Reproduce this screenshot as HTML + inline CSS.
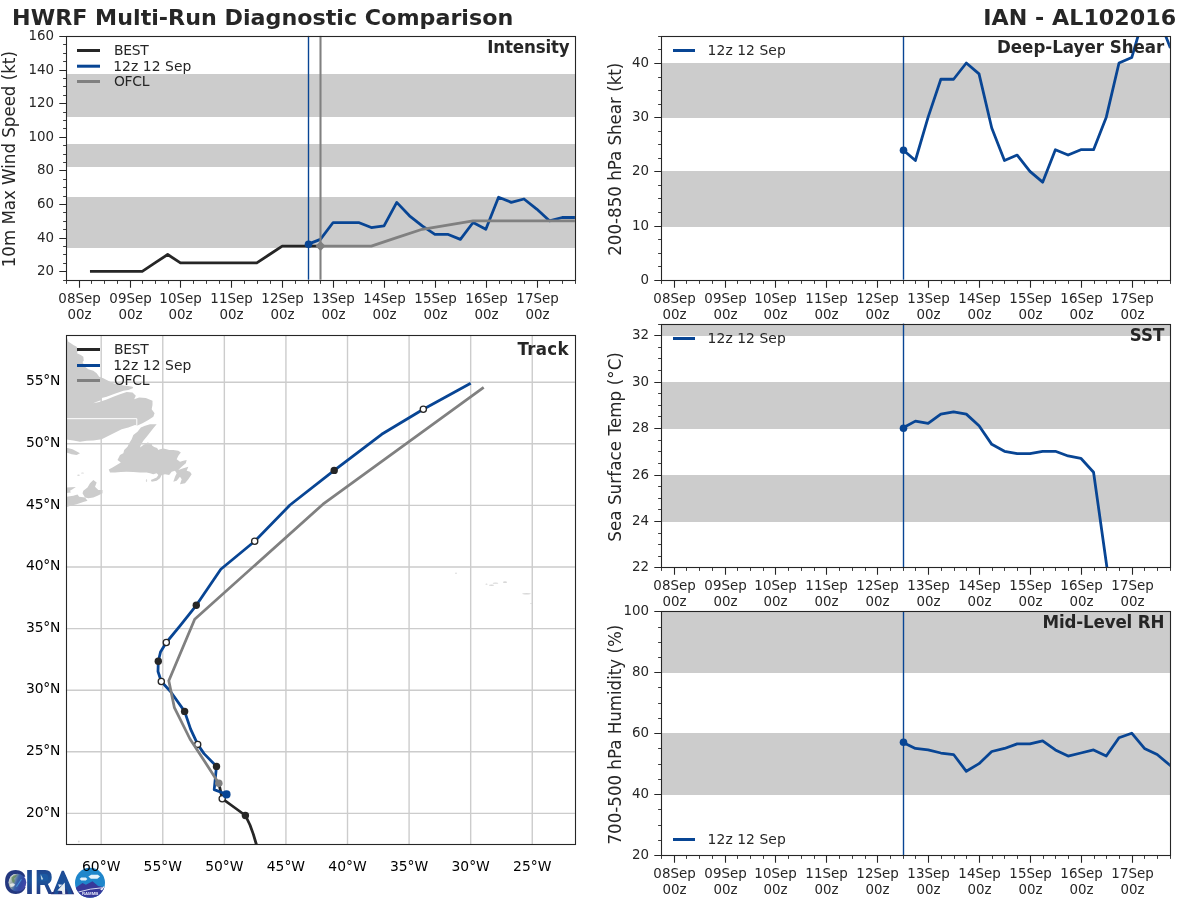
<!DOCTYPE html>
<html lang="en"><head><meta charset="utf-8"><title>HWRF Multi-Run Diagnostic Comparison - IAN AL102016</title>
<style>
html,body{margin:0;padding:0;background:#fff;}
body{width:1200px;height:900px;overflow:hidden;}
svg{display:block;font-family:'DejaVu Sans','Liberation Sans',sans-serif;fill:#262626;}
text{white-space:pre;}
</style></head><body>
<svg width="1200" height="900" viewBox="0 0 1200 900">
<defs><linearGradient id="lg" x1="0" y1="0" x2="0" y2="1" gradientUnits="objectBoundingBox"><stop offset="0" stop-color="#223a84"/><stop offset="0.45" stop-color="#1b559c"/><stop offset="1" stop-color="#27307a"/></linearGradient><linearGradient id="gl" x1="0" y1="0.2" x2="1" y2="0.6"><stop offset="0" stop-color="#e4e8e2"/><stop offset="0.3" stop-color="#8fa0a0"/><stop offset="0.5" stop-color="#3a62a8"/><stop offset="0.75" stop-color="#3248a4"/><stop offset="1" stop-color="#4a49a8"/></linearGradient><linearGradient id="lg2" x1="0" y1="0" x2="0" y2="1"><stop offset="0" stop-color="#1f4a94"/><stop offset="0.55" stop-color="#1c539b"/><stop offset="1" stop-color="#27307a"/></linearGradient><clipPath id="rc"><circle cx="90" cy="882.8" r="15"/></clipPath><clipPath id="c1"><rect x="65.9" y="35.9" width="509" height="243.8"/></clipPath><clipPath id="c2"><rect x="65.9" y="335.2" width="509" height="509"/></clipPath><clipPath id="c3"><rect x="660.9" y="35.9" width="509" height="243.8"/></clipPath><clipPath id="c4"><rect x="660.9" y="323.6" width="509" height="243.8"/></clipPath><clipPath id="c5"><rect x="660.9" y="611.3" width="509" height="243.8"/></clipPath></defs>
<rect width="1200" height="900" fill="#fff"/>
<text transform="translate(12.05 25) scale(1 0.98)" font-size="22.22" font-weight="bold">HWRF Multi-Run Diagnostic Comparison</text>
<text transform="translate(1176.1 25) scale(1 0.98)" font-size="22.22" text-anchor="end" font-weight="bold">IAN - AL102016</text>
<g>
<text transform="matrix(0.3150 0 0 0.3489 3.71 894.25)" font-family="'Liberation Sans',sans-serif" font-weight="bold" font-size="100" fill="#24387f">C</text>
<circle cx="17.4" cy="882.6" r="8.9" fill="url(#gl)"/>
<path d="M11.5 877.5q2.5 -3 5.5 -2.5q-1 2.5 -3 3.5q1.5 2 0 4.5q-2.5 -1 -2.5 -5.5z" fill="#5f8a58" opacity="0.75"/>
<path d="M10 884q3 -1.5 5 0.5q-1 2.5 -4.5 2.5z" fill="#f4f6f4" opacity="0.8"/>
<path d="M16 886.5l5 -7.5l0.9 0.6l-5 7.5z" fill="#49a0e0" opacity="0.8"/>
<text transform="matrix(0.3264 0 0 0.3503 25.11 894.3)" font-family="'Liberation Sans',sans-serif" font-weight="bold" font-size="100" fill="url(#lg)">I</text>
<path d="M40 871.5h6.5q3.5 1 3.5 5q0 4 -4 5.5h-6z" fill="#1c5aa3"/>
<text transform="matrix(0.2504 0 0 0.3503 35.02 894.3)" font-family="'Liberation Sans',sans-serif" font-weight="bold" font-size="100" fill="url(#lg)">R</text>
<path d="M40.6 874.3l2.6 4.6l-1.4 1.2l-0.8 -1.6z" fill="#c9dfe6" opacity="0.9"/>
<path d="M61.8 870.8h2l10.4 23.4h-23.4l1.2 -2.2h1.2z" fill="url(#lg2)"/>
<text transform="matrix(0.2727 0 0 0.2791 53.32 894.2)" font-family="'Liberation Sans',sans-serif" font-weight="bold" font-size="100" fill="#1c4f98">A</text>
<path d="M57.4 890.4l7.4 -7.9l0.4 11.8h-2.7l-0.6 -3.2z" fill="#e9eef2"/>
<path d="M58.2 884.2l4.4 0.6l-3.4 2.4z" fill="#dfe8f0"/>
<circle cx="90" cy="882.8" r="15" fill="#1f86cb"/>
<g clip-path="url(#rc)">
<path d="M74 889l8.5 -6.1l3.4 1.8l6.6 -3.5l5.6 4.9l6 1.1l2 -1v13h-32z" fill="#37399a"/>
<path d="M78.5 892q12 -3.6 23.5 -4.2" stroke="#e8ecf8" stroke-width="0.9" fill="none"/>
<path d="M100.2 889.4l3.6 -3.2l0.6 0.7l-2.4 3.6z" fill="#f2f4fb"/>
</g>
<path d="M79.6 878.9l1.6 -1.3h4.6l1.6 1.3l-1.6 1.5h-4.6z" fill="#e6f1fa"/>
<path d="M88.4 876.6l2.8 -1.9h6.6l2.2 1.8l-2.6 2.2h-6.6z" fill="#e6f1fa"/>
<text x="81.9" y="894.6" font-family="'Liberation Sans',sans-serif" font-weight="bold" font-size="4.3" fill="#dfe3f5" textLength="16.4" lengthAdjust="spacingAndGlyphs">RAMMB</text>
</g>
<rect x="66.5" y="74" width="509" height="43" fill="#cccccc"/>
<rect x="66.5" y="144" width="509" height="23" fill="#cccccc"/>
<rect x="66.5" y="197" width="509" height="51" fill="#cccccc"/>
<polyline clip-path="url(#c1)" points="91.35,271.29 104.08,271.29 116.8,271.29 129.53,271.29 142.25,271.29 154.98,262.89 167.7,254.48 180.43,262.89 193.15,262.89 205.88,262.89 218.6,262.89 231.33,262.89 244.05,262.89 256.77,262.89 269.5,254.48 282.23,246.07 294.95,246.07 307.68,246.07 320.4,246.07" fill="none" stroke="#262626" stroke-width="2.78" stroke-linejoin="round" stroke-linecap="square"/>
<line x1="308.5" y1="35.9" x2="308.5" y2="279.7" stroke="#084594" stroke-width="1.39"/>
<polyline clip-path="url(#c1)" points="307.68,244.39 320.4,239.35 333.12,222.53 345.85,222.53 358.58,222.53 371.3,227.58 384.02,225.9 396.75,202.36 409.48,215.81 422.2,225.9 434.92,234.3 447.65,234.3 460.38,239.35 473.1,222.53 485.83,229.26 498.55,197.31 511.27,202.36 524,198.99 536.73,209.08 549.45,220.85 562.17,217.49 574.9,217.49" fill="none" stroke="#084594" stroke-width="2.78" stroke-linejoin="round" stroke-linecap="square"/>
<circle cx="308.5" cy="244.3" r="3.8" fill="#084594"/>
<polyline clip-path="url(#c1)" points="320.4,246.07 345.85,246.07 371.3,246.07 396.75,237.67 422.2,229.26 473.1,220.85 524,220.85 574.9,220.85" fill="none" stroke="#808080" stroke-width="2.78" stroke-linejoin="round" stroke-linecap="square"/>
<line x1="320.5" y1="35.9" x2="320.5" y2="279.7" stroke="#808080" stroke-width="2.08"/>
<path d="M320.5 241.1L325.5 246.1L320.5 251.1L315.5 246.1Z" fill="#808080"/>
<rect x="66.5" y="36.5" width="509" height="244" fill="none" stroke="#262626" stroke-width="1.1"/>
<path d="M79.5 280.5v7.2M130.5 280.5v7.2M180.5 280.5v7.2M231.5 280.5v7.2M282.5 280.5v7.2M333.5 280.5v7.2M384.5 280.5v7.2M435.5 280.5v7.2M486.5 280.5v7.2M537.5 280.5v7.2" stroke="#262626" stroke-width="1.1" fill="none"/>
<path d="M66.5 280.5v3.4M91.5 280.5v3.4M104.5 280.5v3.4M117.5 280.5v3.4M142.5 280.5v3.4M155.5 280.5v3.4M168.5 280.5v3.4M193.5 280.5v3.4M206.5 280.5v3.4M219.5 280.5v3.4M244.5 280.5v3.4M257.5 280.5v3.4M270.5 280.5v3.4M295.5 280.5v3.4M308.5 280.5v3.4M320.5 280.5v3.4M346.5 280.5v3.4M359.5 280.5v3.4M371.5 280.5v3.4M397.5 280.5v3.4M409.5 280.5v3.4M422.5 280.5v3.4M448.5 280.5v3.4M460.5 280.5v3.4M473.5 280.5v3.4M499.5 280.5v3.4M511.5 280.5v3.4M524.5 280.5v3.4M549.5 280.5v3.4M562.5 280.5v3.4M575.5 280.5v3.4" stroke="#262626" stroke-width="0.9" fill="none"/>
<text transform="translate(79.5 302.5)" font-size="13.4" text-anchor="middle">08Sep</text>
<text transform="translate(79.5 318.8)" font-size="13.4" text-anchor="middle">00z</text>
<text transform="translate(130.5 302.5)" font-size="13.4" text-anchor="middle">09Sep</text>
<text transform="translate(130.5 318.8)" font-size="13.4" text-anchor="middle">00z</text>
<text transform="translate(180.5 302.5)" font-size="13.4" text-anchor="middle">10Sep</text>
<text transform="translate(180.5 318.8)" font-size="13.4" text-anchor="middle">00z</text>
<text transform="translate(231.5 302.5)" font-size="13.4" text-anchor="middle">11Sep</text>
<text transform="translate(231.5 318.8)" font-size="13.4" text-anchor="middle">00z</text>
<text transform="translate(282.5 302.5)" font-size="13.4" text-anchor="middle">12Sep</text>
<text transform="translate(282.5 318.8)" font-size="13.4" text-anchor="middle">00z</text>
<text transform="translate(333.5 302.5)" font-size="13.4" text-anchor="middle">13Sep</text>
<text transform="translate(333.5 318.8)" font-size="13.4" text-anchor="middle">00z</text>
<text transform="translate(384.5 302.5)" font-size="13.4" text-anchor="middle">14Sep</text>
<text transform="translate(384.5 318.8)" font-size="13.4" text-anchor="middle">00z</text>
<text transform="translate(435.5 302.5)" font-size="13.4" text-anchor="middle">15Sep</text>
<text transform="translate(435.5 318.8)" font-size="13.4" text-anchor="middle">00z</text>
<text transform="translate(486.5 302.5)" font-size="13.4" text-anchor="middle">16Sep</text>
<text transform="translate(486.5 318.8)" font-size="13.4" text-anchor="middle">00z</text>
<text transform="translate(537.5 302.5)" font-size="13.4" text-anchor="middle">17Sep</text>
<text transform="translate(537.5 318.8)" font-size="13.4" text-anchor="middle">00z</text>
<text transform="translate(54.1 274.8)" font-size="13.4" text-anchor="end">20</text>
<text transform="translate(54.1 241.8)" font-size="13.4" text-anchor="end">40</text>
<text transform="translate(54.1 207.8)" font-size="13.4" text-anchor="end">60</text>
<text transform="translate(54.1 173.8)" font-size="13.4" text-anchor="end">80</text>
<text transform="translate(54.1 140.8)" font-size="13.4" text-anchor="end">100</text>
<text transform="translate(54.1 106.8)" font-size="13.4" text-anchor="end">120</text>
<text transform="translate(54.1 73.8)" font-size="13.4" text-anchor="end">140</text>
<text transform="translate(54.1 39.8)" font-size="13.4" text-anchor="end">160</text>
<path d="M66.5 271.5h-7.2M66.5 238.5h-7.2M66.5 204.5h-7.2M66.5 170.5h-7.2M66.5 137.5h-7.2M66.5 103.5h-7.2M66.5 70.5h-7.2M66.5 36.5h-7.2" stroke="#262626" stroke-width="1.1" fill="none"/>
<path d="M66.5 280.5h-3.4M66.5 263.5h-3.4M66.5 254.5h-3.4M66.5 246.5h-3.4M66.5 229.5h-3.4M66.5 221.5h-3.4M66.5 212.5h-3.4M66.5 196.5h-3.4M66.5 187.5h-3.4M66.5 179.5h-3.4M66.5 162.5h-3.4M66.5 154.5h-3.4M66.5 145.5h-3.4M66.5 128.5h-3.4M66.5 120.5h-3.4M66.5 112.5h-3.4M66.5 95.5h-3.4M66.5 86.5h-3.4M66.5 78.5h-3.4M66.5 61.5h-3.4M66.5 53.5h-3.4M66.5 44.5h-3.4" stroke="#262626" stroke-width="0.9" fill="none"/>
<text transform="translate(569.4 53) scale(1 1.06)" font-size="16.67" text-anchor="end" font-weight="bold" letter-spacing="-0.17">Intensity</text>
<text transform="translate(15 159.2) rotate(-90) scale(1 1.06)" font-size="16.67" text-anchor="middle">10m Max Wind Speed (kt)</text>
<rect x="77" y="49" width="23" height="3" fill="#262626"/>
<text transform="translate(114 55)" font-size="13.89" letter-spacing="-0.3">BEST</text>
<rect x="77" y="64.7" width="23" height="3" fill="#084594"/>
<text transform="translate(113.2 70.7)" font-size="13.89" letter-spacing="0.06">12z 12 Sep</text>
<rect x="77" y="80" width="23" height="3" fill="#808080"/>
<text transform="translate(114 86)" font-size="13.89" letter-spacing="-0.3">OFCL</text>
<path d="M101.19 335.2V844.2M162.77 335.2V844.2M224.35 335.2V844.2M285.93 335.2V844.2M347.51 335.2V844.2M409.09 335.2V844.2M470.67 335.2V844.2M532.25 335.2V844.2M65.9 813.4H574.9M65.9 751.8H574.9M65.9 690.2H574.9M65.9 628.6H574.9M65.9 567H574.9M65.9 505.4H574.9M65.9 443.8H574.9M65.9 382.2H574.9" stroke="#cccccc" stroke-width="1.39" fill="none"/>
<g clip-path="url(#c2)" fill="#cccccc">
<polygon points="66.5,335.42 67.08,338.33 68.33,341.67 70.83,343.33 73.33,345 76.67,346.67 77.92,350 77.08,353.33 80.83,355 83.33,356.67 83.75,360.83 82.5,362.08 85,366.67 88.33,369.17 93.33,370.83 96.67,373.33 99.17,376.67 103.33,378.33 106.67,380 106.67,380 113.33,383.33 120,385 126.67,385.83 132.5,386.67 133.33,387.92 128.33,390 123.33,390.83 118.33,392.5 113.33,394.17 106.67,396.67 101.67,397.92 101.67,400 96.67,401.67 93.33,403.33 99.17,402.08 106.67,399.58 113.33,396.67 120,394.17 126.67,392.08 132.5,392.5 135.83,395.83 134.17,399.17 139.17,397.5 145.83,397.92 152.5,400.83 152.5,405 151.67,409.17 154.58,413.33 153.33,416.67 148.33,420 142.5,423.33 137.5,425.42 135,425 128.33,427.5 121.67,429.17 116.67,431.67 111.67,434.17 106.67,436.67 101.67,439.17 93.33,440.42 86.67,440.83 80,441.67 73.33,440.42 66.5,439.58"/>
<polygon points="66.5,447.67 72.5,449.17 80,453.33 76.67,455 71.67,454.17 66.5,452.5"/>
<polygon points="156.67,424.17 153.33,428.33 150,432.5 146.67,436.67 143.33,440.83 140.83,445 140,447.5 143.33,445 147.5,442.5 151.67,443.5 152.08,445.42 154.17,447.08 157.08,447.92 158.33,450 160,449.17 163.33,448.5 166.67,449.17 169.17,450 173.33,450 178.33,450.83 180.83,452.5 178.33,455.83 176.67,459.17 180,461.67 183.33,460.83 186.67,460 185.83,463.33 181.67,466.67 178.33,470 183.33,468.33 188.33,466.67 186.67,470.83 190,471.67 191.67,474.17 188.33,479.17 185,483.33 180,484.17 181.67,479.17 180,476.67 176.67,480.83 173.33,481.67 175,476.67 176.67,473.33 175,470.83 171.67,471.67 169.17,475 165,474.17 161.67,475 160,478.33 156.67,480.83 151.67,481.67 150.83,480 156.67,477.5 158.33,475 156.67,473.33 153.33,474.17 150,473.33 146.67,472.5 140,472.5 133.33,472.08 126.67,471.67 120.83,472.08 115,472.5 110,472.5 108.75,469.58 112.5,467.5 116.67,465 120.83,462.5 117.5,460 120,455 123.33,453.33 124.17,450 127.5,446.67 129.17,443.33 131.67,439.17 133.33,435 137.5,431.67 140.83,427.5 145,425.83 150,424.17"/>
<polygon points="93.33,480 96.67,482.5 95,486.67 98.33,490 102.5,490 102.5,493.33 97.5,495.83 93.33,497.5 88.33,498.33 85,497.5 82.5,493.33 83.33,490.83 87.5,487.5 90,483.33"/>
<polygon points="66.5,487.5 75.83,487.08 72.5,489.17 70,490.83 70.83,492.5 66.5,492.92"/>
<polygon points="66.5,496.67 73.33,495.83 77.5,494.58 79.17,496.67 85,497.5 87.5,500.83 83.33,502.08 76.67,504.17 70.83,505.83 66.5,507.08"/>
</g>
<g fill="#cccccc" opacity="0.75" clip-path="url(#c2)">
<ellipse cx="456" cy="573.3" rx="0.9" ry="0.7"/>
<ellipse cx="486.5" cy="584.2" rx="1" ry="0.6"/>
<ellipse cx="491.5" cy="585.3" rx="2.6" ry="0.7"/>
<ellipse cx="495.5" cy="583.2" rx="2.8" ry="0.6"/>
<ellipse cx="505" cy="582.2" rx="2" ry="0.9"/>
<ellipse cx="526.5" cy="593.7" rx="4.3" ry="0.8"/>
<ellipse cx="531" cy="603.5" rx="0.8" ry="0.6"/>
<ellipse cx="78.8" cy="841.5" rx="0.9" ry="0.9"/>
<ellipse cx="78.5" cy="475.3" rx="1.3" ry="0.7"/>
<ellipse cx="82.5" cy="473" rx="1.5" ry="0.6"/>
<ellipse cx="146.5" cy="480.5" rx="0.6" ry="1.6"/>
</g>
<path d="M66.5 418.7H136.8V425.6" stroke="#fff" stroke-width="1" fill="none"/>
<polyline clip-path="url(#c2)" points="258.3,850 256.4,844.5 253.3,834.1 250,825 245.4,815.5 233.8,807 222.2,798.7 218.9,783.4" fill="none" stroke="#262626" stroke-width="2.78" stroke-linejoin="round" stroke-linecap="butt"/>
<circle cx="222.2" cy="798.7" r="3.1" fill="#fff" stroke="#262626" stroke-width="1.3"/>
<circle cx="245.4" cy="815.5" r="3.7" fill="#262626"/>
<polyline clip-path="url(#c2)" points="226.4,794.3 214.2,789.6 216.5,766.4 204,753.6 197.7,744.4 190.6,729.1 184.6,711.4 170.5,691.5 161.3,681.5 158,671.5 158.3,661.3 160.5,652 166.3,642.5 180,625.8 196.3,605.3 220.8,569.2 254.7,541.3 290,505 334.2,470.4 381.7,434.3 423.3,409.3 470.7,383.3" fill="none" stroke="#084594" stroke-width="2.78" stroke-linejoin="round" stroke-linecap="butt"/>
<circle cx="197.7" cy="744.4" r="3.1" fill="#fff" stroke="#262626" stroke-width="1.3"/>
<circle cx="161.3" cy="681.5" r="3.1" fill="#fff" stroke="#262626" stroke-width="1.3"/>
<circle cx="166.3" cy="642.5" r="3.1" fill="#fff" stroke="#262626" stroke-width="1.3"/>
<circle cx="254.7" cy="541.3" r="3.1" fill="#fff" stroke="#262626" stroke-width="1.3"/>
<circle cx="423.3" cy="409.3" r="3.1" fill="#fff" stroke="#262626" stroke-width="1.3"/>
<circle cx="216.5" cy="766.4" r="3.7" fill="#262626"/>
<circle cx="184.6" cy="711.4" r="3.7" fill="#262626"/>
<circle cx="158.3" cy="661.3" r="3.7" fill="#262626"/>
<circle cx="196.3" cy="605.3" r="3.7" fill="#262626"/>
<circle cx="334.2" cy="470.4" r="3.7" fill="#262626"/>
<circle cx="226.5" cy="794.4" r="4.1" fill="#084594"/>
<polyline clip-path="url(#c2)" points="218.7,783.2 205.5,762.8 190,739 174.4,707.7 168.8,680.8 194.7,619.2 323,504.2 483.7,387.3" fill="none" stroke="#808080" stroke-width="2.78" stroke-linejoin="round" stroke-linecap="butt"/>
<circle cx="218.8" cy="783.3" r="3.8" fill="#808080"/>
<rect x="66.5" y="335.5" width="509" height="509" fill="none" stroke="#262626" stroke-width="1.1"/>
<text transform="translate(60.3 817)" font-size="13.89" text-anchor="end" fill="#000" letter-spacing="-0.2">20°N</text>
<text transform="translate(60.3 755)" font-size="13.89" text-anchor="end" fill="#000" letter-spacing="-0.2">25°N</text>
<text transform="translate(60.3 693)" font-size="13.89" text-anchor="end" fill="#000" letter-spacing="-0.2">30°N</text>
<text transform="translate(60.3 632)" font-size="13.89" text-anchor="end" fill="#000" letter-spacing="-0.2">35°N</text>
<text transform="translate(60.3 570)" font-size="13.89" text-anchor="end" fill="#000" letter-spacing="-0.2">40°N</text>
<text transform="translate(60.3 509)" font-size="13.89" text-anchor="end" fill="#000" letter-spacing="-0.2">45°N</text>
<text transform="translate(60.3 447)" font-size="13.89" text-anchor="end" fill="#000" letter-spacing="-0.2">50°N</text>
<text transform="translate(60.3 385)" font-size="13.89" text-anchor="end" fill="#000" letter-spacing="-0.2">55°N</text>
<text transform="translate(101.19 870.6)" font-size="13.89" text-anchor="middle" fill="#000">60°W</text>
<text transform="translate(162.77 870.6)" font-size="13.89" text-anchor="middle" fill="#000">55°W</text>
<text transform="translate(224.35 870.6)" font-size="13.89" text-anchor="middle" fill="#000">50°W</text>
<text transform="translate(285.93 870.6)" font-size="13.89" text-anchor="middle" fill="#000">45°W</text>
<text transform="translate(347.51 870.6)" font-size="13.89" text-anchor="middle" fill="#000">40°W</text>
<text transform="translate(409.09 870.6)" font-size="13.89" text-anchor="middle" fill="#000">35°W</text>
<text transform="translate(470.67 870.6)" font-size="13.89" text-anchor="middle" fill="#000">30°W</text>
<text transform="translate(532.25 870.6)" font-size="13.89" text-anchor="middle" fill="#000">25°W</text>
<text transform="translate(568.9 354.8) scale(1 1.06)" font-size="16.67" text-anchor="end" font-weight="bold" letter-spacing="0.3">Track</text>
<rect x="77" y="348" width="23" height="3" fill="#262626"/>
<text transform="translate(114 354)" font-size="13.89" letter-spacing="-0.3">BEST</text>
<rect x="77" y="364" width="23" height="3" fill="#084594"/>
<text transform="translate(113.2 370)" font-size="13.89" letter-spacing="0.06">12z 12 Sep</text>
<rect x="77" y="379" width="23" height="3" fill="#808080"/>
<text transform="translate(114 385)" font-size="13.89" letter-spacing="-0.3">OFCL</text>
<rect x="661.5" y="171" width="509" height="56" fill="#cccccc"/>
<rect x="661.5" y="63" width="509" height="55" fill="#cccccc"/>
<line x1="903.5" y1="35.9" x2="903.5" y2="279.7" stroke="#084594" stroke-width="1.39"/>
<polyline clip-path="url(#c3)" points="902.68,149.67 915.4,160.51 928.12,117.17 940.85,79.24 953.58,79.24 966.3,62.99 979.03,73.82 991.75,128 1004.48,160.51 1017.2,155.09 1029.92,171.34 1042.65,182.18 1055.38,149.67 1068.1,155.09 1080.83,149.67 1093.55,149.67 1106.28,117.17 1119,62.99 1131.73,57.57 1144.45,14.23 1157.18,14.23 1169.9,46.74" fill="none" stroke="#084594" stroke-width="2.78" stroke-linejoin="round" stroke-linecap="square"/>
<circle cx="903.5" cy="150.3" r="3.8" fill="#084594"/>
<rect x="661.5" y="36.5" width="509" height="244" fill="none" stroke="#262626" stroke-width="1.1"/>
<path d="M674.5 280.5v7.2M725.5 280.5v7.2M775.5 280.5v7.2M826.5 280.5v7.2M877.5 280.5v7.2M928.5 280.5v7.2M979.5 280.5v7.2M1030.5 280.5v7.2M1081.5 280.5v7.2M1132.5 280.5v7.2" stroke="#262626" stroke-width="1.1" fill="none"/>
<path d="M661.5 280.5v3.4M686.5 280.5v3.4M699.5 280.5v3.4M712.5 280.5v3.4M737.5 280.5v3.4M750.5 280.5v3.4M763.5 280.5v3.4M788.5 280.5v3.4M801.5 280.5v3.4M814.5 280.5v3.4M839.5 280.5v3.4M852.5 280.5v3.4M865.5 280.5v3.4M890.5 280.5v3.4M903.5 280.5v3.4M915.5 280.5v3.4M941.5 280.5v3.4M954.5 280.5v3.4M966.5 280.5v3.4M992.5 280.5v3.4M1004.5 280.5v3.4M1017.5 280.5v3.4M1043.5 280.5v3.4M1055.5 280.5v3.4M1068.5 280.5v3.4M1094.5 280.5v3.4M1106.5 280.5v3.4M1119.5 280.5v3.4M1144.5 280.5v3.4M1157.5 280.5v3.4M1170.5 280.5v3.4" stroke="#262626" stroke-width="0.9" fill="none"/>
<text transform="translate(674.5 302.5)" font-size="13.4" text-anchor="middle">08Sep</text>
<text transform="translate(674.5 318.8)" font-size="13.4" text-anchor="middle">00z</text>
<text transform="translate(725.5 302.5)" font-size="13.4" text-anchor="middle">09Sep</text>
<text transform="translate(725.5 318.8)" font-size="13.4" text-anchor="middle">00z</text>
<text transform="translate(775.5 302.5)" font-size="13.4" text-anchor="middle">10Sep</text>
<text transform="translate(775.5 318.8)" font-size="13.4" text-anchor="middle">00z</text>
<text transform="translate(826.5 302.5)" font-size="13.4" text-anchor="middle">11Sep</text>
<text transform="translate(826.5 318.8)" font-size="13.4" text-anchor="middle">00z</text>
<text transform="translate(877.5 302.5)" font-size="13.4" text-anchor="middle">12Sep</text>
<text transform="translate(877.5 318.8)" font-size="13.4" text-anchor="middle">00z</text>
<text transform="translate(928.5 302.5)" font-size="13.4" text-anchor="middle">13Sep</text>
<text transform="translate(928.5 318.8)" font-size="13.4" text-anchor="middle">00z</text>
<text transform="translate(979.5 302.5)" font-size="13.4" text-anchor="middle">14Sep</text>
<text transform="translate(979.5 318.8)" font-size="13.4" text-anchor="middle">00z</text>
<text transform="translate(1030.5 302.5)" font-size="13.4" text-anchor="middle">15Sep</text>
<text transform="translate(1030.5 318.8)" font-size="13.4" text-anchor="middle">00z</text>
<text transform="translate(1081.5 302.5)" font-size="13.4" text-anchor="middle">16Sep</text>
<text transform="translate(1081.5 318.8)" font-size="13.4" text-anchor="middle">00z</text>
<text transform="translate(1132.5 302.5)" font-size="13.4" text-anchor="middle">17Sep</text>
<text transform="translate(1132.5 318.8)" font-size="13.4" text-anchor="middle">00z</text>
<text transform="translate(649.1 283.8)" font-size="13.4" text-anchor="end">0</text>
<text transform="translate(649.1 229.8)" font-size="13.4" text-anchor="end">10</text>
<text transform="translate(649.1 174.8)" font-size="13.4" text-anchor="end">20</text>
<text transform="translate(649.1 120.8)" font-size="13.4" text-anchor="end">30</text>
<text transform="translate(649.1 66.8)" font-size="13.4" text-anchor="end">40</text>
<path d="M661.5 280.5h-7.2M661.5 226.5h-7.2M661.5 171.5h-7.2M661.5 117.5h-7.2M661.5 63.5h-7.2" stroke="#262626" stroke-width="1.1" fill="none"/>
<path d="M661.5 266.5h-3.4M661.5 253.5h-3.4M661.5 239.5h-3.4M661.5 212.5h-3.4M661.5 198.5h-3.4M661.5 185.5h-3.4M661.5 158.5h-3.4M661.5 144.5h-3.4M661.5 131.5h-3.4M661.5 104.5h-3.4M661.5 90.5h-3.4M661.5 77.5h-3.4M661.5 49.5h-3.4M661.5 36.5h-3.4" stroke="#262626" stroke-width="0.9" fill="none"/>
<text transform="translate(1164.3 53.2) scale(1 1.06)" font-size="16.67" text-anchor="end" font-weight="bold">Deep-Layer Shear</text>
<text transform="translate(620.6 159.2) rotate(-90) scale(1 1.06)" font-size="16.67" text-anchor="middle">200-850 hPa Shear (kt)</text>
<rect x="673" y="49" width="22" height="3" fill="#084594"/>
<text transform="translate(707.6 55)" font-size="13.89" letter-spacing="0.06">12z 12 Sep</text>
<rect x="661.5" y="475" width="509" height="47" fill="#cccccc"/>
<rect x="661.5" y="382" width="509" height="47" fill="#cccccc"/>
<rect x="661.5" y="324" width="509" height="12" fill="#cccccc"/>
<line x1="903.5" y1="323.6" x2="903.5" y2="567.4" stroke="#084594" stroke-width="1.39"/>
<polyline clip-path="url(#c4)" points="902.68,428.09 915.4,421.12 928.12,423.44 940.85,414.15 953.58,411.83 966.3,414.15 979.03,425.76 991.75,444.34 1004.48,451.3 1017.2,453.63 1029.92,453.63 1042.65,451.3 1055.38,451.3 1068.1,455.95 1080.83,458.27 1093.55,472.2 1106.28,562.76 1119,653.31" fill="none" stroke="#084594" stroke-width="2.78" stroke-linejoin="round" stroke-linecap="square"/>
<circle cx="903.5" cy="428.3" r="3.8" fill="#084594"/>
<rect x="661.5" y="324.5" width="509" height="243" fill="none" stroke="#262626" stroke-width="1.1"/>
<path d="M674.5 567.5v7.2M725.5 567.5v7.2M775.5 567.5v7.2M826.5 567.5v7.2M877.5 567.5v7.2M928.5 567.5v7.2M979.5 567.5v7.2M1030.5 567.5v7.2M1081.5 567.5v7.2M1132.5 567.5v7.2" stroke="#262626" stroke-width="1.1" fill="none"/>
<path d="M661.5 567.5v3.4M686.5 567.5v3.4M699.5 567.5v3.4M712.5 567.5v3.4M737.5 567.5v3.4M750.5 567.5v3.4M763.5 567.5v3.4M788.5 567.5v3.4M801.5 567.5v3.4M814.5 567.5v3.4M839.5 567.5v3.4M852.5 567.5v3.4M865.5 567.5v3.4M890.5 567.5v3.4M903.5 567.5v3.4M915.5 567.5v3.4M941.5 567.5v3.4M954.5 567.5v3.4M966.5 567.5v3.4M992.5 567.5v3.4M1004.5 567.5v3.4M1017.5 567.5v3.4M1043.5 567.5v3.4M1055.5 567.5v3.4M1068.5 567.5v3.4M1094.5 567.5v3.4M1106.5 567.5v3.4M1119.5 567.5v3.4M1144.5 567.5v3.4M1157.5 567.5v3.4M1170.5 567.5v3.4" stroke="#262626" stroke-width="0.9" fill="none"/>
<text transform="translate(674.5 589.5)" font-size="13.4" text-anchor="middle">08Sep</text>
<text transform="translate(674.5 605.8)" font-size="13.4" text-anchor="middle">00z</text>
<text transform="translate(725.5 589.5)" font-size="13.4" text-anchor="middle">09Sep</text>
<text transform="translate(725.5 605.8)" font-size="13.4" text-anchor="middle">00z</text>
<text transform="translate(775.5 589.5)" font-size="13.4" text-anchor="middle">10Sep</text>
<text transform="translate(775.5 605.8)" font-size="13.4" text-anchor="middle">00z</text>
<text transform="translate(826.5 589.5)" font-size="13.4" text-anchor="middle">11Sep</text>
<text transform="translate(826.5 605.8)" font-size="13.4" text-anchor="middle">00z</text>
<text transform="translate(877.5 589.5)" font-size="13.4" text-anchor="middle">12Sep</text>
<text transform="translate(877.5 605.8)" font-size="13.4" text-anchor="middle">00z</text>
<text transform="translate(928.5 589.5)" font-size="13.4" text-anchor="middle">13Sep</text>
<text transform="translate(928.5 605.8)" font-size="13.4" text-anchor="middle">00z</text>
<text transform="translate(979.5 589.5)" font-size="13.4" text-anchor="middle">14Sep</text>
<text transform="translate(979.5 605.8)" font-size="13.4" text-anchor="middle">00z</text>
<text transform="translate(1030.5 589.5)" font-size="13.4" text-anchor="middle">15Sep</text>
<text transform="translate(1030.5 605.8)" font-size="13.4" text-anchor="middle">00z</text>
<text transform="translate(1081.5 589.5)" font-size="13.4" text-anchor="middle">16Sep</text>
<text transform="translate(1081.5 605.8)" font-size="13.4" text-anchor="middle">00z</text>
<text transform="translate(1132.5 589.5)" font-size="13.4" text-anchor="middle">17Sep</text>
<text transform="translate(1132.5 605.8)" font-size="13.4" text-anchor="middle">00z</text>
<text transform="translate(649.1 570.8)" font-size="13.4" text-anchor="end">22</text>
<text transform="translate(649.1 524.8)" font-size="13.4" text-anchor="end">24</text>
<text transform="translate(649.1 478.8)" font-size="13.4" text-anchor="end">26</text>
<text transform="translate(649.1 431.8)" font-size="13.4" text-anchor="end">28</text>
<text transform="translate(649.1 385.8)" font-size="13.4" text-anchor="end">30</text>
<text transform="translate(649.1 338.8)" font-size="13.4" text-anchor="end">32</text>
<path d="M661.5 567.5h-7.2M661.5 521.5h-7.2M661.5 475.5h-7.2M661.5 428.5h-7.2M661.5 382.5h-7.2M661.5 335.5h-7.2" stroke="#262626" stroke-width="1.1" fill="none"/>
<path d="M661.5 556.5h-3.4M661.5 544.5h-3.4M661.5 533.5h-3.4M661.5 509.5h-3.4M661.5 498.5h-3.4M661.5 486.5h-3.4M661.5 463.5h-3.4M661.5 451.5h-3.4M661.5 440.5h-3.4M661.5 416.5h-3.4M661.5 405.5h-3.4M661.5 393.5h-3.4M661.5 370.5h-3.4M661.5 358.5h-3.4M661.5 347.5h-3.4M661.5 324.5h-3.4" stroke="#262626" stroke-width="0.9" fill="none"/>
<text transform="translate(1164.3 340.6) scale(1 1.06)" font-size="16.67" text-anchor="end" font-weight="bold">SST</text>
<text transform="translate(620.6 446.9) rotate(-90) scale(1 1.06)" font-size="16.67" text-anchor="middle" letter-spacing="0.1">Sea Surface Temp (°C)</text>
<rect x="673" y="337" width="22" height="3" fill="#084594"/>
<text transform="translate(707.6 343)" font-size="13.89" letter-spacing="0.06">12z 12 Sep</text>
<rect x="661.5" y="733" width="509" height="62" fill="#cccccc"/>
<rect x="661.5" y="612" width="509" height="61" fill="#cccccc"/>
<line x1="903.5" y1="611.3" x2="903.5" y2="855.1" stroke="#084594" stroke-width="1.39"/>
<polyline clip-path="url(#c5)" points="902.68,742.34 915.4,748.44 928.12,749.96 940.85,753.01 953.58,754.53 966.3,771.29 979.03,763.67 991.75,751.49 1004.48,748.44 1017.2,743.87 1029.92,743.87 1042.65,740.82 1055.38,749.96 1068.1,756.06 1080.83,753.01 1093.55,749.96 1106.28,756.06 1119,737.77 1131.73,733.2 1144.45,748.44 1157.18,754.53 1169.9,765.2" fill="none" stroke="#084594" stroke-width="2.78" stroke-linejoin="round" stroke-linecap="square"/>
<circle cx="903.5" cy="742.3" r="3.8" fill="#084594"/>
<rect x="661.5" y="611.5" width="509" height="244" fill="none" stroke="#262626" stroke-width="1.1"/>
<path d="M674.5 855.5v7.2M725.5 855.5v7.2M775.5 855.5v7.2M826.5 855.5v7.2M877.5 855.5v7.2M928.5 855.5v7.2M979.5 855.5v7.2M1030.5 855.5v7.2M1081.5 855.5v7.2M1132.5 855.5v7.2" stroke="#262626" stroke-width="1.1" fill="none"/>
<path d="M661.5 855.5v3.4M686.5 855.5v3.4M699.5 855.5v3.4M712.5 855.5v3.4M737.5 855.5v3.4M750.5 855.5v3.4M763.5 855.5v3.4M788.5 855.5v3.4M801.5 855.5v3.4M814.5 855.5v3.4M839.5 855.5v3.4M852.5 855.5v3.4M865.5 855.5v3.4M890.5 855.5v3.4M903.5 855.5v3.4M915.5 855.5v3.4M941.5 855.5v3.4M954.5 855.5v3.4M966.5 855.5v3.4M992.5 855.5v3.4M1004.5 855.5v3.4M1017.5 855.5v3.4M1043.5 855.5v3.4M1055.5 855.5v3.4M1068.5 855.5v3.4M1094.5 855.5v3.4M1106.5 855.5v3.4M1119.5 855.5v3.4M1144.5 855.5v3.4M1157.5 855.5v3.4M1170.5 855.5v3.4" stroke="#262626" stroke-width="0.9" fill="none"/>
<text transform="translate(674.5 877.5)" font-size="13.4" text-anchor="middle">08Sep</text>
<text transform="translate(674.5 893.8)" font-size="13.4" text-anchor="middle">00z</text>
<text transform="translate(725.5 877.5)" font-size="13.4" text-anchor="middle">09Sep</text>
<text transform="translate(725.5 893.8)" font-size="13.4" text-anchor="middle">00z</text>
<text transform="translate(775.5 877.5)" font-size="13.4" text-anchor="middle">10Sep</text>
<text transform="translate(775.5 893.8)" font-size="13.4" text-anchor="middle">00z</text>
<text transform="translate(826.5 877.5)" font-size="13.4" text-anchor="middle">11Sep</text>
<text transform="translate(826.5 893.8)" font-size="13.4" text-anchor="middle">00z</text>
<text transform="translate(877.5 877.5)" font-size="13.4" text-anchor="middle">12Sep</text>
<text transform="translate(877.5 893.8)" font-size="13.4" text-anchor="middle">00z</text>
<text transform="translate(928.5 877.5)" font-size="13.4" text-anchor="middle">13Sep</text>
<text transform="translate(928.5 893.8)" font-size="13.4" text-anchor="middle">00z</text>
<text transform="translate(979.5 877.5)" font-size="13.4" text-anchor="middle">14Sep</text>
<text transform="translate(979.5 893.8)" font-size="13.4" text-anchor="middle">00z</text>
<text transform="translate(1030.5 877.5)" font-size="13.4" text-anchor="middle">15Sep</text>
<text transform="translate(1030.5 893.8)" font-size="13.4" text-anchor="middle">00z</text>
<text transform="translate(1081.5 877.5)" font-size="13.4" text-anchor="middle">16Sep</text>
<text transform="translate(1081.5 893.8)" font-size="13.4" text-anchor="middle">00z</text>
<text transform="translate(1132.5 877.5)" font-size="13.4" text-anchor="middle">17Sep</text>
<text transform="translate(1132.5 893.8)" font-size="13.4" text-anchor="middle">00z</text>
<text transform="translate(649.1 858.8)" font-size="13.4" text-anchor="end">20</text>
<text transform="translate(649.1 797.8)" font-size="13.4" text-anchor="end">40</text>
<text transform="translate(649.1 736.8)" font-size="13.4" text-anchor="end">60</text>
<text transform="translate(649.1 675.8)" font-size="13.4" text-anchor="end">80</text>
<text transform="translate(649.1 614.8)" font-size="13.4" text-anchor="end">100</text>
<path d="M661.5 855.5h-7.2M661.5 794.5h-7.2M661.5 733.5h-7.2M661.5 672.5h-7.2M661.5 611.5h-7.2" stroke="#262626" stroke-width="1.1" fill="none"/>
<path d="M661.5 840.5h-3.4M661.5 825.5h-3.4M661.5 809.5h-3.4M661.5 779.5h-3.4M661.5 764.5h-3.4M661.5 748.5h-3.4M661.5 718.5h-3.4M661.5 703.5h-3.4M661.5 687.5h-3.4M661.5 657.5h-3.4M661.5 642.5h-3.4M661.5 627.5h-3.4" stroke="#262626" stroke-width="0.9" fill="none"/>
<text transform="translate(1164.3 628.4) scale(1 1.06)" font-size="16.67" text-anchor="end" font-weight="bold" letter-spacing="-0.14">Mid-Level RH</text>
<text transform="translate(620.6 734.6) rotate(-90) scale(1 1.06)" font-size="16.67" text-anchor="middle">700-500 hPa Humidity (%)</text>
<rect x="673" y="838" width="22" height="3" fill="#084594"/>
<text transform="translate(707.6 844)" font-size="13.89" letter-spacing="0.06">12z 12 Sep</text>
</svg>
</body></html>
